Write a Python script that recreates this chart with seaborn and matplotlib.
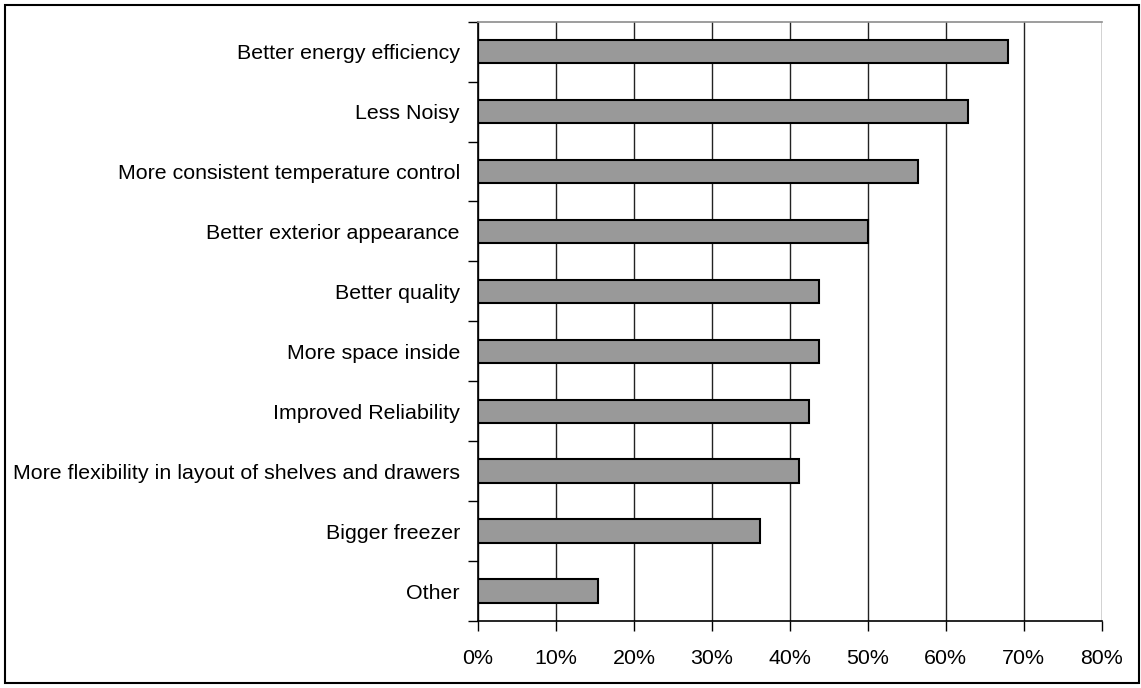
import matplotlib
matplotlib.use("Agg")
import matplotlib.pyplot as plt
from matplotlib.patches import Rectangle
from matplotlib.ticker import FixedLocator, FuncFormatter
import seaborn as sns
import pandas as pd
import numpy as np

# Survey results: share of respondents citing each improvement
categories = [
    "Better energy efficiency",
    "Less Noisy",
    "More consistent temperature control",
    "Better exterior appearance",
    "Better quality",
    "More space inside",
    "Improved Reliability",
    "More flexibility in layout of shelves and drawers",
    "Bigger freezer",
    "Other",
]
shares = [68.0, 62.9, 56.5, 50.0, 43.7, 43.7, 42.5, 41.2, 36.2, 15.4]
x_ticks = [0, 10, 20, 30, 40, 50, 60, 70, 80]

df = pd.DataFrame({"category": categories, "share": shares})

sns.set_theme(style="white")
plt.rcParams["font.family"] = ["Liberation Sans", "DejaVu Sans"]

W, H = 1141, 688
fig = plt.figure(figsize=(W / 100, H / 100), dpi=100)
ax = fig.add_axes([478 / W, 1 - 621 / H, (1101.5 - 478) / W, (621 - 21.7) / H])

sns.barplot(data=df, x="share", y="category", orient="h", color="#999999",
            saturation=1, edgecolor="black", linewidth=1.5, width=0.39, ax=ax)

ax.set_xlim(0, 80)
ax.set_ylim(len(categories) - 0.5, -0.5)
ax.set_xlabel("")
ax.set_ylabel("")

# vertical gridlines at every 10%
ax.xaxis.set_major_locator(FixedLocator(x_ticks))
ax.xaxis.set_major_formatter(FuncFormatter(lambda v, p: f"{v:.0f}%"))
ax.grid(axis="x", color="#222222", linewidth=1.0)
ax.grid(axis="y", visible=False)
ax.set_axisbelow(True)

# category tick marks sit between bars
ax.yaxis.set_minor_locator(FixedLocator(np.arange(-0.5, len(categories), 1.0)))
ax.tick_params(axis="y", which="major", length=0, pad=13, labelsize=15.4,
               labelcolor="black")
ax.tick_params(axis="y", which="minor", left=True, length=7, width=1.0,
               color="black")
ax.tick_params(axis="x", which="major", bottom=True, length=7, width=1.0,
               color="black", pad=13, labelsize=15.4, labelcolor="black")

for side in ["left", "bottom"]:
    ax.spines[side].set_visible(True)
    ax.spines[side].set_color("black")
    ax.spines[side].set_linewidth(1.2)
ax.spines["top"].set_visible(True)
ax.spines["top"].set_color("#8c8c8c")
ax.spines["top"].set_linewidth(1.2)
ax.spines["right"].set_visible(False)

# outer chart border
fig.patches.append(Rectangle((5 / W, 5 / H), (1139 - 5) / W, (683 - 5) / H,
                             transform=fig.transFigure, fill=False,
                             edgecolor="black", linewidth=1.5))

fig.savefig("out.png", dpi=100)
